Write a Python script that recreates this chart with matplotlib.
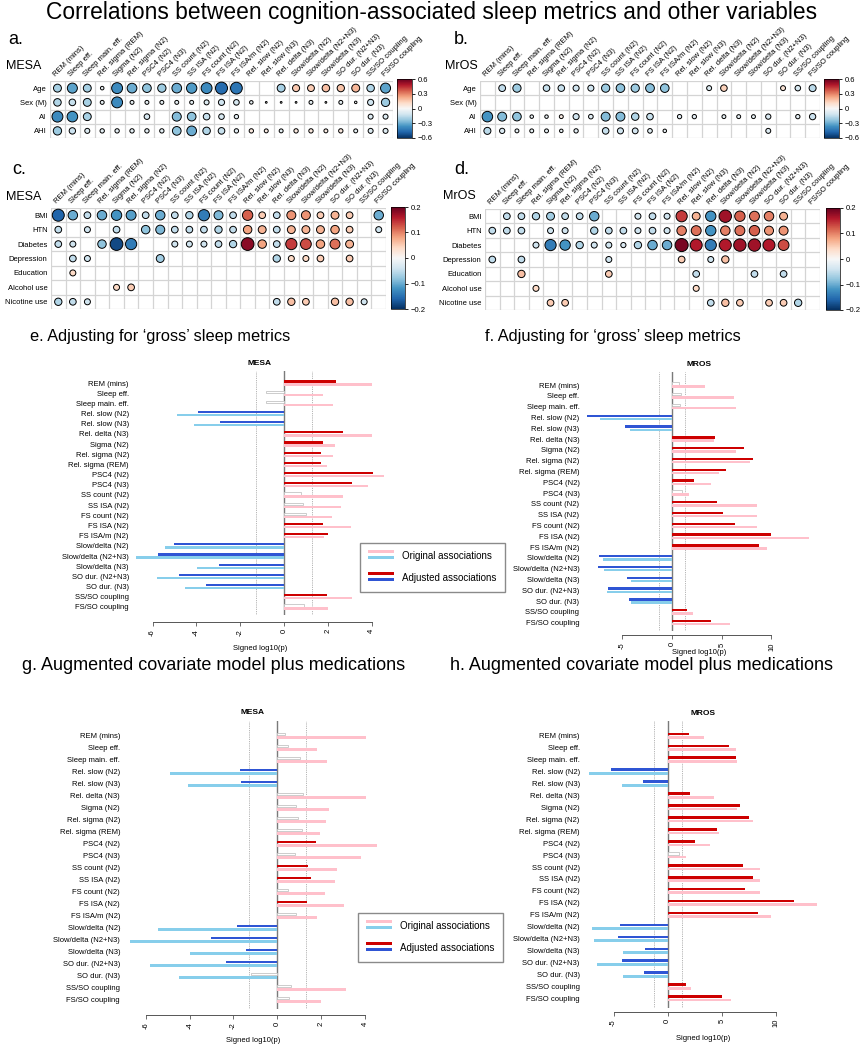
"""
Correlations between cognition-associated sleep metrics and other variables.
Four corrplot-style circle grids (a-d) and four signed log10(p) bar panels (e-h).
"""

import matplotlib
matplotlib.use("Agg")
import matplotlib.pyplot as plt
import numpy as np
from matplotlib.cm import ScalarMappable
from matplotlib.collections import EllipseCollection
from matplotlib.colors import Normalize
from matplotlib.patches import Patch, Rectangle

nan = np.nan
W, H = 862, 1050

plt.rcParams["font.family"] = ["Liberation Sans", "DejaVu Sans"]

# ---------------------------------------------------------------- data
SLEEP_COLS = [
  "REM (mins)", "Sleep eff.", "Sleep main. eff.", "Rel. sigma (REM)", "Sigma (N2)",
  "Rel. sigma (N2)", "PSC4 (N2)", "PSC4 (N3)", "SS count (N2)", "SS ISA (N2)",
  "FS count (N2)", "FS ISA (N2)", "FS ISA/m (N2)", "Rel. slow (N2)", "Rel. slow (N3)",
  "Rel. delta (N3)", "Slow/delta (N2)", "Slow/delta (N2+N3)", "Slow/delta (N3)",
  "SO dur. (N2+N3)", "SO dur. (N3)", "SS/SO coupling", "FS/SO coupling",
]
DEMO_ROWS = ["Age", "Sex (M)", "AI", "AHI"]
HEALTH_ROWS = ["BMI", "HTN", "Diabetes", "Depression", "Education", "Alcohol use", "Nicotine use"]

# a. MESA, demographics / apnea (blank = not significant)
MESA_DEMO = [
  [-0.20, -0.32, -0.20, -0.04, -0.38, -0.30, -0.24, -0.22, -0.30, -0.34, -0.38, -0.46, -0.44,
   nan, nan, -0.20, 0.16, 0.15, 0.18, 0.17, 0.20, -0.18, -0.32],
  [-0.18, -0.14, -0.20, -0.05, -0.38, -0.05, -0.05, -0.05, -0.05, -0.05, -0.08, -0.12, -0.10,
   -0.04, -0.01, -0.01, -0.01, -0.05, -0.01, -0.05, -0.02, -0.12, -0.22],
  [-0.38, -0.36, -0.20, nan, nan, nan, -0.10, nan, -0.26, -0.24, -0.14, -0.10, -0.06,
   nan, nan, nan, nan, nan, nan, nan, nan, -0.08, -0.08],
  [-0.22, -0.13, -0.08, -0.06, -0.06, -0.06, -0.06, -0.06, -0.24, -0.30, -0.18, -0.14, -0.06,
   0.06, 0.05, -0.05, 0.06, 0.06, 0.05, 0.06, -0.05, -0.08, -0.08],
]
# b. MrOS, demographics / apnea
MROS_DEMO = [
  [nan, -0.15, -0.22, nan, -0.14, -0.14, -0.12, -0.12, -0.22, -0.24, -0.22, -0.25, -0.24,
   nan, nan, -0.08, 0.14, nan, nan, nan, 0.08, -0.10, -0.16],
  [nan] * 23,
  [-0.36, -0.26, -0.24, -0.04, -0.04, 0.05, -0.12, -0.07, -0.26, -0.26, -0.18, -0.14, nan,
   -0.06, -0.06, nan, -0.05, -0.05, -0.05, -0.09, nan, -0.06, -0.13],
  [-0.16, -0.09, -0.05, -0.05, -0.05, -0.04, -0.06, nan, -0.14, -0.12, -0.11, -0.07, -0.04,
   nan, nan, nan, nan, nan, nan, -0.08, nan, nan, nan],
]
# c. MESA, health / lifestyle
MESA_HEALTH = [
  [-0.16, -0.10, -0.05, -0.10, -0.12, -0.11, -0.05, -0.10, -0.05, -0.06, -0.14, -0.09, -0.05,
   0.12, 0.05, -0.05, 0.09, 0.09, 0.05, 0.07, 0.05, nan, -0.10],
  [-0.05, nan, -0.04, nan, -0.05, nan, -0.08, -0.09, -0.05, -0.05, -0.05, -0.06, -0.05,
   0.08, 0.07, -0.05, 0.07, 0.07, 0.07, 0.08, 0.05, nan, -0.04],
  [-0.05, -0.04, nan, -0.08, -0.18, -0.14, nan, nan, -0.04, -0.04, -0.04, -0.05, -0.06,
   0.18, 0.08, -0.05, 0.14, 0.13, 0.08, 0.11, 0.07, nan, nan],
  [nan, -0.05, -0.04, nan, nan, nan, nan, -0.07, nan, nan, nan, nan, nan,
   nan, nan, -0.06, 0.04, 0.04, 0.05, nan, 0.05, nan, nan],
  [nan, 0.04, nan, nan, nan, nan, nan, nan, nan, nan, nan, nan, nan,
   nan, nan, nan, nan, nan, nan, nan, nan, nan, nan],
  [nan, nan, nan, nan, 0.04, 0.05, nan, nan, nan, nan, nan, nan, nan,
   nan, nan, nan, nan, nan, nan, nan, nan, nan, nan],
  [-0.06, -0.05, -0.04, nan, nan, nan, nan, nan, nan, nan, nan, nan, nan,
   nan, nan, -0.05, 0.06, 0.05, nan, 0.06, 0.06, -0.04, nan],
]
# d. MrOS, health / lifestyle
MROS_HEALTH = [
  [nan, -0.05, -0.05, -0.06, -0.07, -0.05, -0.05, -0.10, nan, nan, -0.04, -0.05, -0.04,
   0.14, 0.07, -0.12, 0.17, 0.12, 0.11, 0.10, 0.07, nan, nan],
  [-0.05, -0.05, -0.05, nan, -0.04, -0.04, nan, -0.06, -0.05, -0.05, -0.04, -0.05, -0.04,
   0.10, 0.11, -0.12, 0.10, 0.11, 0.12, 0.09, 0.09, nan, nan],
  [nan, nan, nan, -0.04, -0.14, -0.12, -0.06, -0.04, -0.04, -0.03, -0.06, -0.10, -0.10,
   0.19, 0.16, -0.14, 0.16, 0.17, 0.17, 0.16, 0.13, nan, nan],
  [-0.05, nan, -0.05, nan, nan, nan, nan, nan, -0.04, nan, nan, nan, nan,
   0.05, nan, -0.04, 0.06, nan, nan, nan, nan, nan, nan],
  [nan, nan, 0.06, nan, nan, nan, nan, nan, 0.05, nan, nan, nan, nan,
   nan, -0.05, nan, nan, nan, -0.05, nan, -0.05, nan, nan],
  [nan, nan, nan, 0.04, nan, nan, nan, nan, nan, nan, nan, nan, nan,
   nan, 0.04, nan, nan, nan, nan, nan, nan, nan, nan],
  [nan, nan, nan, nan, 0.05, 0.05, nan, nan, nan, nan, nan, nan, nan,
   nan, nan, -0.05, 0.06, 0.05, nan, 0.05, 0.05, -0.06, nan],
]

BAR_ROWS = [
  "REM (mins)", "Sleep eff.", "Sleep main. eff.", "Rel. slow (N2)", "Rel. slow (N3)",
  "Rel. delta (N3)", "Sigma (N2)", "Rel. sigma (N2)", "Rel. sigma (REM)", "PSC4 (N2)",
  "PSC4 (N3)", "SS count (N2)", "SS ISA (N2)", "FS count (N2)", "FS ISA (N2)",
  "FS ISA/m (N2)", "Slow/delta (N2)", "Slow/delta (N2+N3)", "Slow/delta (N3)",
  "SO dur. (N2+N3)", "SO dur. (N3)", "SS/SO coupling", "FS/SO coupling",
]
# signed log10(p)
MESA_ORIG = [4.04, 1.79, 2.26, -4.88, -4.10, 4.03, 2.34, 2.22, 1.97, 4.56, 3.82, 2.71,
             2.62, 2.18, 3.06, 1.81, -5.43, -6.74, -3.98, -5.82, -4.50, 3.12, 1.99]
MESA_ADJ_GROSS = [2.39, -0.84, -0.84, -3.93, -2.94, 2.69, 1.80, 1.69, 1.69, 4.06, 3.10, 0.78,
                  0.87, 1.00, 1.80, 1.99, -5.04, -5.77, -2.97, -4.79, -3.55, 1.98, 0.91]
MESA_ADJ_MEDS = [0.33, 0.49, 1.05, -1.72, -1.66, 1.19, 0.84, 0.93, 1.11, 1.78, 0.79, 1.38,
                 1.54, 0.50, 1.37, 0.85, -1.86, -3.01, -1.42, -2.36, -1.19, 0.64, 0.55]
MROS_ORIG = [3.33, 6.28, 6.43, -7.23, -4.23, 4.26, 6.42, 7.85, 4.74, 3.88, 1.67, 8.51,
             8.56, 8.56, 13.80, 9.52, -6.96, -6.83, -4.16, -6.50, -4.16, 2.16, 5.83]
MROS_ADJ_GROSS = [0.73, 0.93, 0.83, -8.50, -4.77, 4.33, 7.20, 8.13, 5.40, 2.17, 1.03, 4.57,
                  5.13, 6.30, 9.97, 8.73, -7.37, -7.47, -4.53, -6.47, -4.30, 1.50, 3.96]
MROS_ADJ_MEDS = [1.94, 5.63, 6.34, -5.23, -2.28, 2.06, 6.65, 7.48, 4.58, 2.55, 1.02, 6.98,
                 7.88, 7.14, 11.66, 8.31, -4.43, -4.55, -2.06, -4.22, -2.15, 1.69, 5.05]

SIG = -np.log10(0.05)
ADJ_POS, ADJ_NEG = "#cd0000", "#2f55d4"
ORIG_POS, ORIG_NEG = "#ffc0cb", "#87ceeb"


def px_axes(fig, l, t, r, b):
  return fig.add_axes([l / W, 1 - b / H, (r - l) / W, (b - t) / H])


def fig_text(fig, x, y, s, **kw):
  return fig.text(x / W, 1 - y / H, s, **kw)


def corr_panel(fig, box, cbox, data, rows, lim, ticks):
  data = np.asarray(data, dtype=float)
  nr, nc = data.shape
  ax = px_axes(fig, *box)
  ax.set_xlim(0, nc)
  ax.set_ylim(nr, 0)
  for i in range(nc + 1):
    ax.axvline(i, color="#d4d4d4", lw=0.9, zorder=1)
  for j in range(nr + 1):
    ax.axhline(j, color="#d4d4d4", lw=0.9, zorder=1)
  yy, xx = np.nonzero(~np.isnan(data))
  vals = data[yy, xx]
  d = np.sqrt(np.abs(vals) / lim) * 0.92
  ec = EllipseCollection(d, d, np.zeros_like(d), units="x",
                         offsets=np.column_stack([xx + 0.5, yy + 0.5]),
                         offset_transform=ax.transData, cmap="RdBu_r",
                         norm=Normalize(-lim, lim), edgecolors="black",
                         linewidths=0.7, zorder=3)
  ec.set_array(vals)
  ax.add_collection(ec)
  ax.xaxis.tick_top()
  ax.set_xticks(np.arange(nc) + 0.5)
  ax.set_xticklabels(SLEEP_COLS, rotation=45, ha="left", rotation_mode="anchor", fontsize=5.5)
  ax.set_yticks(np.arange(nr) + 0.5)
  ax.set_yticklabels(rows, fontsize=5.5)
  ax.tick_params(length=0, pad=2.5)
  for sp in ax.spines.values():
    sp.set_visible(False)

  cax = px_axes(fig, *cbox)
  cb = fig.colorbar(ScalarMappable(norm=Normalize(-lim, lim), cmap="RdBu_r"), cax=cax, ticks=ticks)
  cb.ax.set_yticklabels([f"{t:g}".replace("-", "\u2212") for t in ticks])
  cb.ax.tick_params(labelsize=5.5, length=2, width=0.6, pad=2)
  cb.outline.set_linewidth(0.5)


def bar_panel(fig, x0, u, xl, xr, ytop, pitch, adj, orig, title, tc, ticks, axis_gap, label_pad,
              xlabel_y):
  adj = np.asarray(adj)
  orig = np.asarray(orig)
  n = len(BAR_ROWS)
  rows = np.arange(n)
  t = ytop - 1.2 * pitch
  b = ytop + (n - 1) * pitch + 0.8 * pitch
  ax = px_axes(fig, xl, t, xr, b)
  ax.set_xlim((xl - x0) / u, (xr - x0) / u)
  ax.set_ylim(n - 1 + 0.8, -1.2)

  ax.axvline(0, color="#7a7a7a", lw=1.0, zorder=1)
  for s in (-SIG, SIG):
    ax.axvline(s, color="#9a9a9a", lw=0.6, ls=(0, (1, 1.2)), zorder=1)

  sig = np.abs(adj) > SIG
  ax.barh(rows[sig] - 0.15, adj[sig], height=0.22,
          color=np.where(adj[sig] > 0, ADJ_POS, ADJ_NEG), zorder=2)
  ax.barh(rows[~sig] - 0.15, adj[~sig], height=0.22, facecolor="white",
          edgecolor="#c4c4c4", lw=0.6, zorder=2)
  ax.barh(rows + 0.15, orig, height=0.22,
          color=np.where(orig > 0, ORIG_POS, ORIG_NEG), zorder=2)

  ax.set_yticks(rows)
  ax.set_yticklabels(BAR_ROWS, fontsize=5.5)
  ax.tick_params(axis="y", length=0, pad=label_pad)
  for k in ("top", "right", "left"):
    ax.spines[k].set_visible(False)
  ax.spines["bottom"].set_bounds(ticks[0], ticks[-1])
  ax.spines["bottom"].set_position(("outward", axis_gap))
  ax.spines["bottom"].set_color("#555555")
  ax.spines["bottom"].set_linewidth(0.7)
  ax.set_xticks(ticks)
  ax.set_xticklabels([str(v) for v in ticks], rotation=90, fontsize=5.5)
  ax.tick_params(axis="x", length=3, width=0.6, color="#555555", pad=2)
  # axis title placed in figure pixels
  fig_text(fig, tc, xlabel_y, "Signed log10(p)", ha="center", va="center", fontsize=5.5)
  ax.text((tc - x0) / u, -1.9, title, ha="center", va="center", fontsize=6,
          fontweight="bold", clip_on=False)
  return ax


class StackHandler:
  def __init__(self, top, bottom):
    self.top = top
    self.bottom = bottom

  def legend_artist(self, legend, orig_handle, fontsize, handlebox):
    x0, y0 = handlebox.xdescent, handlebox.ydescent
    w, h = handlebox.width, handlebox.height
    tr = handlebox.get_transform()
    r1 = Rectangle((x0, y0 + h * 0.62), w, h * 0.38, facecolor=self.top, edgecolor="none", transform=tr)
    r2 = Rectangle((x0, y0 - h * 0.1), w, h * 0.38, facecolor=self.bottom, edgecolor="none", transform=tr)
    handlebox.add_artist(r1)
    handlebox.add_artist(r2)
    return r1


def add_legend(fig, x, y):
  h_orig = Patch(label="Original associations")
  h_adj = Patch(label="Adjusted associations")
  fig.legend(handles=[h_orig, h_adj],
             handler_map={h_orig: StackHandler(ORIG_POS, ORIG_NEG), h_adj: StackHandler(ADJ_POS, ADJ_NEG)},
             loc="upper left", bbox_to_anchor=(x / W, 1 - y / H), bbox_transform=fig.transFigure,
             fontsize=7, frameon=True, fancybox=False, edgecolor="#8a8a8a", framealpha=1,
             handlelength=2.6, handleheight=1.0, labelspacing=1.25, borderpad=0.85, handletextpad=0.9,
             borderaxespad=0)


def main():
  fig = plt.figure(figsize=(W / 100, H / 100), dpi=100)

  fig_text(fig, 432, 12, "Correlations between cognition-associated sleep metrics and other variables",
           ha="center", va="center", fontsize=16.4)

  # ---- top grids
  fig_text(fig, 8, 44, "a.", fontsize=13)
  fig_text(fig, 454, 44, "b.", fontsize=13)
  fig_text(fig, 12, 174, "c.", fontsize=13)
  fig_text(fig, 454, 174, "d.", fontsize=13)
  fig_text(fig, 6, 69, "MESA", fontsize=9)
  fig_text(fig, 445, 69, "MrOS", fontsize=9)
  fig_text(fig, 6, 200, "MESA", fontsize=9)
  fig_text(fig, 443, 199, "MrOS", fontsize=9)

  corr_panel(fig, (50, 81, 393, 138), (397, 79, 412, 138), MESA_DEMO, DEMO_ROWS, 0.6,
             [-0.6, -0.3, 0, 0.3, 0.6])
  corr_panel(fig, (480, 81, 820, 138), (824, 79, 839, 138), MROS_DEMO, DEMO_ROWS, 0.6,
             [-0.6, -0.3, 0, 0.3, 0.6])
  corr_panel(fig, (51, 208, 386, 309), (391, 207, 405, 309), MESA_HEALTH, HEALTH_ROWS, 0.2,
             [-0.2, -0.1, 0, 0.1, 0.2])
  corr_panel(fig, (485, 209, 820, 310), (826, 208, 840, 310), MROS_HEALTH, HEALTH_ROWS, 0.2,
             [-0.2, -0.1, 0, 0.1, 0.2])

  # ---- bar panels
  fig_text(fig, 30, 336, "e. Adjusting for \u2018gross\u2019 sleep metrics", va="center", fontsize=11.8)
  fig_text(fig, 485, 336, "f. Adjusting for \u2018gross\u2019 sleep metrics", va="center", fontsize=11.8)
  fig_text(fig, 22, 666, "g. Augmented covariate model plus medications", va="center", fontsize=13)
  fig_text(fig, 450, 666, "h. Augmented covariate model plus medications", va="center", fontsize=13)

  bar_panel(fig, 284, 21.9, 133, 388, 383, 10.18, MESA_ADJ_GROSS, MESA_ORIG, "MESA", 260,
            [-6, -4, -2, 0, 2, 4], 5, 3, 649)
  bar_panel(fig, 672, 9.95, 585, 813, 385, 10.8, MROS_ADJ_GROSS, MROS_ORIG, "MROS", 699,
            [-5, 0, 5, 10], 3, 4, 653)
  bar_panel(fig, 277.3, 21.9, 127, 378, 735.7, 12.0, MESA_ADJ_MEDS, MESA_ORIG, "MESA", 253,
            [-6, -4, -2, 0, 2, 4], 4, 5, 1041)
  bar_panel(fig, 667.7, 10.83, 588, 818, 735.7, 11.94, MROS_ADJ_MEDS, MROS_ORIG, "MROS", 703,
            [-5, 0, 5, 10], 3, 6, 1039)

  add_legend(fig, 360, 543)
  add_legend(fig, 358, 913)

  fig.savefig("out.png", dpi=100)


if __name__ == "__main__":
  main()
